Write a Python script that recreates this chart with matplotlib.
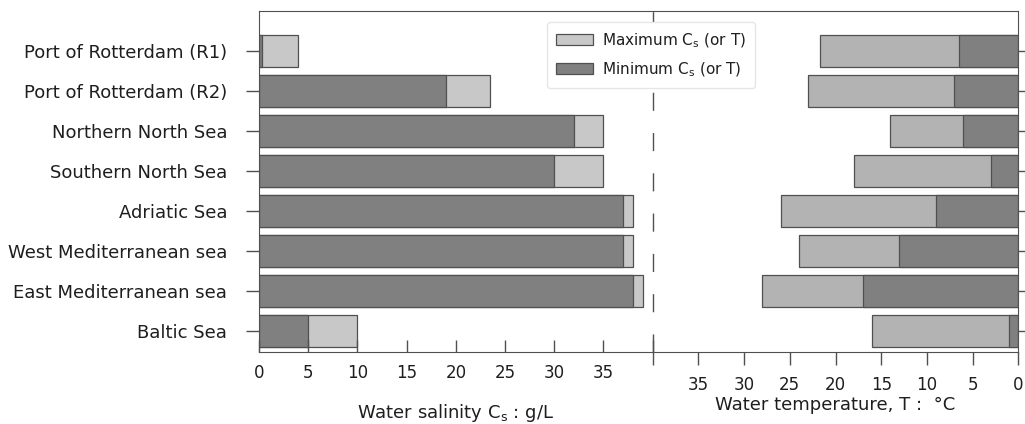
"""
Salinity and temperature ranges of sea waters — mirrored horizontal bars.
Left half: water salinity (g/L), right half: water temperature (°C, reversed).
"""

import matplotlib
matplotlib.use("Agg")
import numpy as np
import matplotlib.pyplot as plt
from matplotlib.patches import Patch


# Data

sites = [
    "Port of Rotterdam (R1)",
    "Port of Rotterdam (R2)",
    "Northern North Sea",
    "Southern North Sea",
    "Adriatic Sea",
    "West Mediterranean sea",
    "East Mediterranean sea",
    "Baltic Sea",
]

salinity_min = [0.3, 19, 32, 30, 37, 37, 38, 5]
salinity_max = [4, 23.5, 35, 35, 38, 38, 39, 10]

temp_min = [6.5, 7, 6, 3, 9, 13, 17, 1]
temp_max = [21.7, 23, 14, 18, 26, 24, 28, 16]

sal_ticks = [0, 5, 10, 15, 20, 25, 30, 35, 40]
sal_ticklabels = ["0", "5", "10", "15", "20", "25", "30", "35", ""]
temp_ticks = [40, 35, 30, 25, 20, 15, 10, 5, 0]
temp_ticklabels = ["", "35", "30", "25", "20", "15", "10", "5", "0"]


# Style

DARK = "#808080"
LIGHT_L = "#c8c8c8"
LIGHT_R = "#b3b3b3"
EDGE = "#505050"
TXT = "#1e1e1e"

plt.rcParams["font.family"] = ["DejaVu Sans"]
plt.rcParams["font.size"] = 12
plt.rcParams["mathtext.fontset"] = "dejavusans"

fig = plt.figure(figsize=(10.25, 4.24), dpi=100)

W, H = 1025, 424
x0, xm, x1 = 259, 652.7, 1018.3
ytop, ybot = 11, 352
ax1 = fig.add_axes([x0 / W, 1 - ybot / H, (xm - x0) / W, (ybot - ytop) / H])
ax2 = fig.add_axes([xm / W, 1 - ybot / H, (x1 - xm) / W, (ybot - ytop) / H])
ax2.patch.set_visible(False)

y = np.arange(len(sites))
bar_kw = dict(height=0.8, edgecolor=EDGE, linewidth=0.9)


# Left: salinity

ax1.barh(y, salinity_max, color=LIGHT_L, **bar_kw)
ax1.barh(y, salinity_min, color=DARK, **bar_kw)
ax1.set_xlim(0, 40)
ax1.set_ylim(7.525, -1.0)
ax1.set_yticks(y)
ax1.set_yticklabels(sites, color=TXT, fontsize=13)
ax1.set_xticks(sal_ticks)
ax1.set_xticklabels(sal_ticklabels, color=TXT)
ax1.tick_params(axis="x", direction="in", length=9, width=1, color=EDGE, pad=9)
ax1.tick_params(axis="y", direction="out", length=9.5, width=1, color=EDGE, pad=13.5)
ax1.spines["right"].set_visible(False)
for s in ("left", "top", "bottom"):
    ax1.spines[s].set_color(EDGE)
ax1.set_xlabel("Water salinity C$_\\mathregular{s}$ : g/L", color=TXT,
               fontsize=13, labelpad=14)

# dashed divider between the two halves
ax1.axvline(40, ymin=0, ymax=1, color=EDGE, linewidth=1,
            linestyle=(0, (13, 16)), clip_on=False, zorder=0)


# Right: temperature (reversed axis)

ax2.barh(y, temp_max, color=LIGHT_R, **bar_kw)
ax2.barh(y, temp_min, color=DARK, **bar_kw)
ax2.set_xlim(40, 0)
ax2.set_ylim(7.525, -1.0)
ax2.set_yticks(y)
ax2.tick_params(axis="y", left=False, right=True, labelleft=False,
                direction="out", length=5, width=1, color=EDGE)
ax2.set_xticks(temp_ticks)
ax2.set_xticklabels(temp_ticklabels, color=TXT)
ax2.tick_params(axis="x", direction="out", length=9.5, width=1, color=EDGE, pad=8)
ax2.spines["left"].set_visible(False)
for s in ("right", "top", "bottom"):
    ax2.spines[s].set_color(EDGE)
ax2.set_xlabel("Water temperature, T :  °C", color=TXT, fontsize=13, labelpad=1.5)


# Legend

handles = [
    Patch(facecolor=LIGHT_L, edgecolor=EDGE, linewidth=0.9),
    Patch(facecolor=DARK, edgecolor=EDGE, linewidth=0.9),
]
labels = ["Maximum C$_\\mathregular{s}$ (or T)", "Minimum C$_\\mathregular{s}$ (or T)"]
leg = fig.legend(handles, labels, loc="upper left",
                 bbox_to_anchor=(547 / W, 1 - 22 / H), borderaxespad=0,
                 frameon=True, fancybox=True, framealpha=1,
                 edgecolor="#e6e6e6", handlelength=2.4, handleheight=0.8,
                 labelspacing=0.7, borderpad=0.6, handletextpad=0.6,
                 fontsize=11)
for t in leg.get_texts():
    t.set_color(TXT)

fig.savefig("out.png", dpi=100)
